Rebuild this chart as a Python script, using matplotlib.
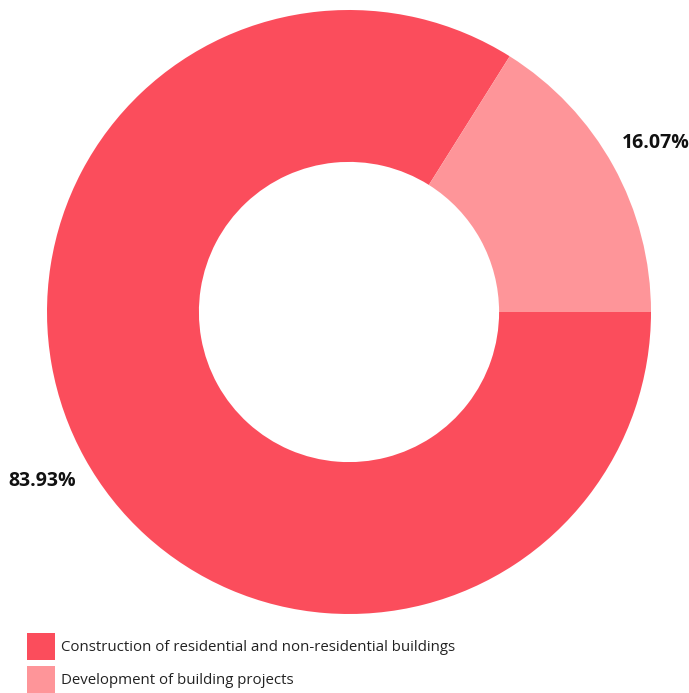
import matplotlib
matplotlib.use("Agg")
import matplotlib.pyplot as plt
from matplotlib.patches import Patch

categories = ["Construction of residential and non-residential buildings",
              "Development of building projects"]
values = [83.93, 16.07]
colors = ["#FB4D5C", "#FE9599"]

plt.rcParams['font.family'] = ['Open Sans', 'DejaVu Sans']

W, H = 689, 693
fig = plt.figure(figsize=(W / 100, H / 100), dpi=100)
ax = fig.add_axes([47 / W, 79 / H, 604 / W, 604 / H])

start = 360 * values[1] / sum(values)
wedges, texts, autotexts = ax.pie(values, colors=colors, startangle=start,
                                  counterclock=True, radius=1,
                                  wedgeprops=dict(width=0.503, edgecolor='none'),
                                  autopct=lambda p: f"{p:.2f}%", pctdistance=1.16)
for t in autotexts:
    t.set_fontsize(14)
    t.set_fontweight('bold')
    t.set_color('#111111')
    t.set_ha('center')
    t.set_va('center')
ax.set_xlim(-1, 1)
ax.set_ylim(-1, 1)
ax.set_aspect('auto')
ax.axis('off')

handles = [Patch(facecolor=c, edgecolor='none') for c in colors]
fig.legend(handles, categories, loc='upper left',
           bbox_to_anchor=(27 / W, 1 - 633 / H), frameon=False,
           fontsize=10.8, handlelength=1.85, handleheight=2.4,
           handletextpad=0.4, labelspacing=0.4, borderpad=0, borderaxespad=0,
           labelcolor='#222222')

fig.savefig("out.png", dpi=100)
